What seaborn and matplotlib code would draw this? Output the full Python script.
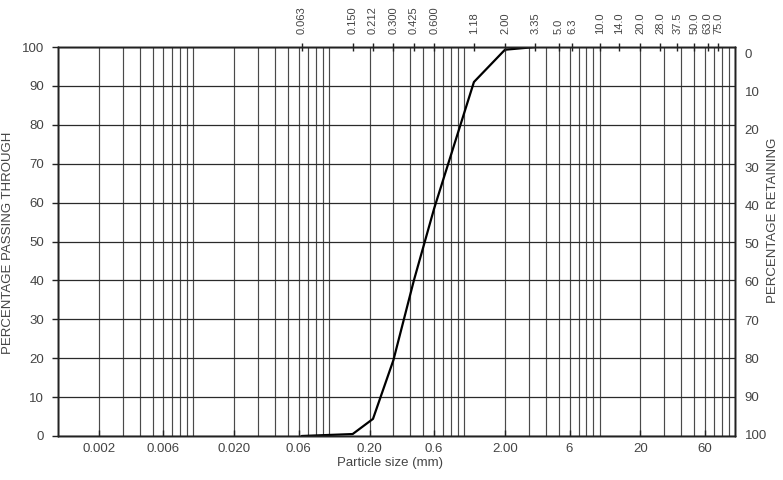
import numpy as np
import pandas as pd
import matplotlib
matplotlib.use('Agg')
import matplotlib.pyplot as plt
import seaborn as sns
from matplotlib.ticker import FixedLocator, FixedFormatter, LogLocator, NullFormatter, NullLocator

# ---- data ----
sieve_mm = [0.063, 0.150, 0.212, 0.300, 0.425, 0.600, 1.18, 2.00, 3.35]
passing_pct = [0.0, 0.5, 4.4, 19.5, 40.0, 58.5, 91.0, 99.3, 100.0]

top_sizes = [0.063, 0.150, 0.212, 0.300, 0.425, 0.600, 1.18, 2.00, 3.35, 5.0, 6.3,
             10.0, 14.0, 20.0, 28.0, 37.5, 50.0, 63.0, 75.0]
top_labels = ['0.063', '0.150', '0.212', '0.300', '0.425', '0.600', '1.18', '2.00', '3.35',
              '5.0', '6.3', '10.0', '14.0', '20.0', '28.0', '37.5', '50.0', '63.0', '75.0']
bottom_ticks = [0.002, 0.006, 0.02, 0.06, 0.2, 0.6, 2, 6, 20, 60]
bottom_labels = ['0.002', '0.006', '0.020', '0.06', '0.20', '0.6', '2.00', '6', '20', '60']
left_ticks = list(range(0, 101, 10))
left_labels = [str(v) for v in left_ticks]
right_ticks = list(range(0, 101, 10))
right_labels = [str(v) for v in right_ticks]

df = pd.DataFrame({'size': sieve_mm, 'passing': passing_pct})

sns.set_style('white')
plt.rcParams['font.family'] = ['Liberation Sans', 'DejaVu Sans']

W, H = 783, 480
fig = plt.figure(figsize=(W / 100, H / 100), dpi=100)
L, R, T, B = 58, 735, 47, 436
ax = fig.add_axes([L / W, 1 - B / H, (R - L) / W, (B - T) / H])
ax.set_xscale('log')
ax.set_xlim(0.001, 100)
ax.set_ylim(0, 100)

tick_color = '#444444'
grid_color = '#4a4a4a'

# grid
ax.xaxis.set_major_locator(FixedLocator(bottom_ticks))
ax.xaxis.set_major_formatter(FixedFormatter(bottom_labels))
ax.xaxis.set_minor_locator(LogLocator(base=10, subs=np.arange(1, 10)))
ax.xaxis.set_minor_formatter(NullFormatter())
ax.yaxis.set_major_locator(FixedLocator(left_ticks))
ax.yaxis.set_major_formatter(FixedFormatter(left_labels))
ax.grid(True, which='both', axis='x', color=grid_color, lw=0.85)
ax.grid(True, which='major', axis='y', color='#2a2a2a', lw=0.9)
ax.set_axisbelow(True)

ax.tick_params(axis='x', which='major', direction='in', length=4, width=1,
               color='#222222', labelsize=9.5, labelcolor=tick_color, pad=5)
ax.tick_params(axis='x', which='minor', length=0)
ax.tick_params(axis='y', which='major', direction='out', length=4, width=1,
               color='#222222', labelsize=9.5, labelcolor=tick_color, pad=6,
               left=True)

sns.lineplot(data=df, x='size', y='passing', ax=ax, color='black', lw=1.6,
             sort=True, legend=False)
ax.set_xlabel('')
ax.set_ylabel('')

for s in ax.spines.values():
    s.set_color('#222222')
    s.set_linewidth(1)

# top axis with sieve sizes
ax2 = ax.twiny()
ax2.set_xscale('log')
ax2.set_xlim(ax.get_xlim())
ax2.xaxis.set_major_locator(FixedLocator(top_sizes))
ax2.xaxis.set_major_formatter(FixedFormatter(top_labels))
ax2.xaxis.set_minor_locator(NullLocator())
ax2.tick_params(axis='x', which='major', direction='inout', length=6, width=1,
                color='#222222', labelsize=8, labelcolor=tick_color, pad=6,
                labelrotation=90)
ax2.grid(False)

# right axis: percentage retaining
ax3 = ax.twinx()
ax3.set_ylim(100.5, -1.8)
ax3.yaxis.set_major_locator(FixedLocator(right_ticks))
ax3.yaxis.set_major_formatter(FixedFormatter(right_labels))
ax3.tick_params(axis='y', length=0, labelsize=9.5, labelcolor=tick_color, pad=7)
ax3.grid(False)
for a in (ax2, ax3):
    for s in a.spines.values():
        s.set_color('#222222')
        s.set_linewidth(1)

fig.text(8 / W, 1 - 243 / H, 'PERCENTAGE PASSING THROUGH', rotation=90,
         ha='center', va='center', fontsize=9.5, color=tick_color)
fig.text(773 / W, 1 - 220 / H, 'PERCENTAGE RETAINING', rotation=90,
         ha='center', va='center', fontsize=9.5, color=tick_color)
fig.text(390 / W, 1 - 463 / H, 'Particle size (mm)', ha='center', va='center',
         fontsize=9.5, color=tick_color)

fig.savefig('out.png', dpi=100)
